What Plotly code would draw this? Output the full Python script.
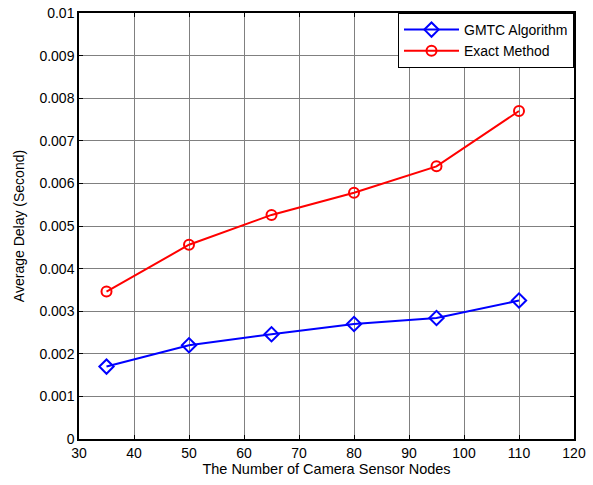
import plotly.graph_objects as go

nodes = [35, 50, 65, 80, 95, 110]
gmtc = [0.0017, 0.0022, 0.00246, 0.0027, 0.00284, 0.00325]
exact = [0.00346, 0.00456, 0.00526, 0.00578, 0.0064, 0.0077]

x_ticks = [30, 40, 50, 60, 70, 80, 90, 100, 110, 120]
y_ticks = [0, 0.001, 0.002, 0.003, 0.004, 0.005, 0.006, 0.007, 0.008, 0.009, 0.01]
y_labels = ["0", "0.001", "0.002", "0.003", "0.004", "0.005", "0.006", "0.007", "0.008", "0.009", "0.01"]

FONT = "Liberation Sans, Arial"

fig = go.Figure()
fig.add_trace(go.Scatter(x=nodes, y=gmtc, mode="lines+markers", name="GMTC Algorithm",
                         line=dict(color="#0000ff", width=2),
                         marker=dict(symbol="diamond-open", size=11, color="#0000ff", line=dict(width=2))))
fig.add_trace(go.Scatter(x=nodes, y=exact, mode="lines+markers", name="Exact Method",
                         line=dict(color="#ff0000", width=2),
                         marker=dict(symbol="circle-open", size=10, color="#ff0000", line=dict(width=2))))

axis_common = dict(showline=True, linecolor="black", linewidth=1.5, mirror="ticks",
                   ticks="inside", ticklen=4, tickcolor="black", automargin=False,
                   showgrid=True, gridcolor="#808080", gridwidth=1, zeroline=False,
                   tickfont=dict(family=FONT, size=14, color="black"))

fig.update_xaxes(range=[30, 120], tickvals=x_ticks,
                 title=dict(text="The Number of Camera Sensor Nodes",
                            font=dict(family=FONT, size=14.5, color="black"), standoff=3),
                 **axis_common)
fig.update_yaxes(range=[0, 0.01], tickvals=y_ticks, ticktext=y_labels,
                 title=dict(text="Average Delay (Second)",
                            font=dict(family=FONT, size=14, color="black"), standoff=12),
                 **axis_common)

fig.update_layout(width=593, height=485, plot_bgcolor="white", paper_bgcolor="white",
                  margin=dict(l=79, r=19, t=13, b=46),
                  font=dict(family=FONT, size=14, color="black"),
                  legend=dict(x=1.0, y=1.0, xanchor="right", yanchor="top",
                              bordercolor="black", borderwidth=1, bgcolor="white",
                              font=dict(size=14), itemwidth=55, tracegroupgap=0))

fig.write_html("out.html", config={"displayModeBar": False},
               post_script="document.body.style.margin='0';")
